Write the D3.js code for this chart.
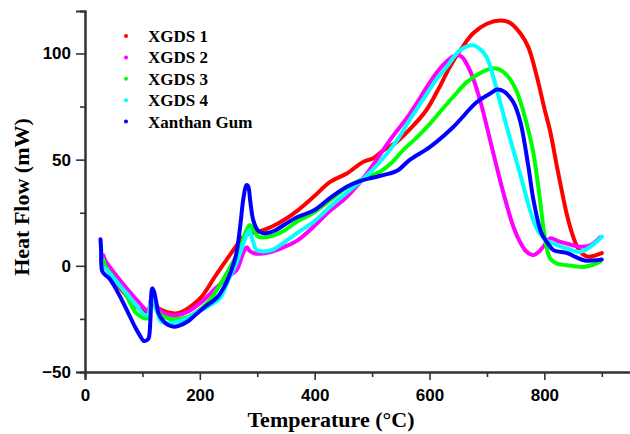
<!DOCTYPE html>
<html>
<head>
<meta charset="utf-8">
<script src="https://cdn.jsdelivr.net/npm/d3@7"></script>
<style>
  html, body { margin: 0; padding: 0; background: #fff; }
  svg { display: block; }
</style>
</head>
<body>
<svg id="chart" width="630" height="434"></svg>
<script>
// ---------- data ----------
const seriesNames = ["XGDS 1", "XGDS 2", "XGDS 3", "XGDS 4", "Xanthan Gum"];
const seriesColors = ["#ff0000", "#ff00ff", "#00ff00", "#00ffff", "#0000ff"];

const xgds1T = [32, 35, 45, 60, 75, 90, 100, 110, 114, 117, 121, 125, 135, 145, 157, 170, 185, 203, 226, 250, 265, 275, 283, 290, 300, 310, 325, 348, 370, 398, 427, 456, 485, 502, 520, 543, 570, 595, 615, 636, 656, 676, 700, 724, 740, 758, 772, 787, 801, 810, 821, 828, 838, 848, 858, 867, 876, 885, 895, 900];
const xgds1H = [3, 0, -4, -10, -15, -19.5, -21, -21.6, -17, -15, -17, -19.3, -21, -22, -22.4, -21.5, -19, -14.6, -5.2, 4.2, 10, 13.5, 15, 15.5, 16, 16.8, 18.4, 21.8, 26, 32.5, 39.5, 43.5, 49, 50.6, 54.5, 58.4, 65.5, 73.5, 83, 94, 102.5, 109.5, 114, 115.5, 114.5, 109.5, 103, 89, 73, 63.5, 48, 38.5, 25.5, 15.5, 8.5, 5.5, 4.3, 4.6, 5.5, 6];

const xgds2T = [32, 35, 50, 75, 95, 107, 111, 115, 118, 122, 130, 145, 160, 180, 203, 230, 250, 264, 273, 278, 282, 287, 296, 310, 325, 348, 370, 398, 427, 456, 491, 531, 566, 595, 607, 625, 640, 648, 656, 672, 688, 703, 717, 731, 746, 758, 769, 781, 790, 798, 810, 825, 839, 862, 880, 897];
const xgds2H = [5, 2.7, -3, -11.4, -17.5, -20.9, -21, -16, -15.5, -18, -21, -23, -23.3, -21.5, -17, -10, -5, -2, 4.2, 7.5, 8.7, 7, 5.8, 5.8, 6.6, 9, 12, 18.4, 26, 32.5, 43.5, 59.2, 71.7, 84, 89, 95, 98.5, 99.2, 98.5, 91, 78, 62, 46.6, 32, 18.4, 11, 6.6, 5, 6.5, 9, 12.9, 11.5, 10.5, 9, 9.7, 13.4];

const xgds3T = [32, 35, 50, 70, 87, 98, 105, 111, 115, 118, 122, 130, 145, 162, 180, 203, 220, 235, 250, 262, 272, 280, 287, 293, 302, 315, 330, 348, 370, 398, 427, 456, 485, 514, 534, 554, 578, 601, 620, 641, 665, 690, 711, 725, 740, 752, 762, 772, 781, 792, 801, 810, 822, 839, 855, 868, 885, 897];
const xgds3H = [3, 0, -5.5, -13, -21.6, -24, -24.8, -24.5, -18, -16.5, -19, -22.5, -24.8, -25, -24, -20, -15.3, -9, -2, 4, 10, 16, 19.2, 17, 13.7, 13.5, 14.5, 16.8, 21, 25, 31, 37, 41, 44.3, 48.5, 54.5, 60.5, 67, 73, 79.5, 86.5, 91, 93, 92, 88, 82, 74, 64, 53, 32, 13, 3.5, 1, 0.3, -0.3, -0.5, 0.5, 1.9];

const xgds4T = [28, 31, 35, 50, 75, 90, 104.5, 110, 114, 117, 121, 126, 133, 145, 162, 180, 192, 215, 235, 250, 261, 270, 278, 285.6, 292, 299, 310, 325, 348, 370, 398, 427, 456, 485, 514, 543, 566, 588, 610, 630, 653, 676, 690, 700, 711, 722, 734, 746, 758, 769, 780, 790, 804, 820, 839, 862, 880, 900];
const xgds4H = [10, -1, -1.2, -6, -13.8, -19, -23.2, -23, -17, -15.5, -18, -22, -26.3, -27, -26.3, -24.5, -22.4, -19, -15.3, -6.5, -0.5, 6, 12, 16.8, 12, 7.4, 6.8, 7.4, 11.3, 15.5, 20.7, 27.8, 34.5, 41, 49, 59, 69, 78, 87, 93.7, 101.5, 103.9, 101.5, 98, 89, 78, 66, 54.5, 43, 32, 22, 16, 12, 10, 8.2, 6.6, 9, 13.7];

const xanthanT = [27, 28, 30, 36, 41, 50, 64, 75, 87, 96, 102, 108, 111, 114, 117, 120, 124, 128, 135, 145, 155, 163, 180, 192, 209, 231, 245, 255, 263, 270, 276, 281, 284, 288, 293, 300, 308, 318, 330, 348, 370, 398, 427, 456, 480, 502, 531, 545, 566, 601, 640, 682, 705, 718, 730, 746, 758, 772, 781, 795, 805, 816, 840, 856, 870, 885, 900];
const xanthanH = [12.5, 8, -2.5, -4.5, -5.5, -9, -16, -22, -28.7, -33, -35.3, -35, -34, -25, -10.6, -12, -17, -22.4, -25.5, -27.9, -28.7, -28.3, -26, -23.2, -19.3, -14.6, -8.5, -2, 5, 18, 32, 38, 37.5, 30, 21.5, 17, 15.5, 15.5, 16.5, 19.5, 23, 26, 32, 37.2, 40, 41.6, 43.5, 45, 50, 56, 65, 77, 81, 83, 82, 77, 68, 47, 31, 15.3, 11, 7.4, 6, 4, 2.5, 2.5, 3];

const xTicksMajor = [0, 200, 400, 600, 800];
const xTicksMinor = [100, 300, 500, 700, 900];
const yTicksMajor = [-50, 0, 50, 100];
const yTicksMinor = [-25, 25, 75];

const xLabel = "Temperature (°C)";
const yLabel = "Heat Flow (mW)";

// ---------- build ----------
const seriesT = [xgds1T, xgds2T, xgds3T, xgds4T, xanthanT];
const seriesH = [xgds1H, xgds2H, xgds3H, xgds4H, xanthanH];
const series = seriesNames.map((name, i) => ({
  name, color: seriesColors[i],
  pts: seriesT[i].map((t, j) => [t, seriesH[i][j]])
}));

const svg = d3.select("#chart");
const x = d3.scaleLinear().domain([0, 950]).range([85, 630.5]);
const y = d3.scaleLinear().domain([-50, 120]).range([372, 11]);

const axisColor = "#333";
const tickFont = "bold 17px 'Liberation Sans', Arial, sans-serif";

// curves
const line = d3.line().x(d => x(d[0])).y(d => y(d[1])).curve(d3.curveCatmullRom.alpha(0.5));
const gLines = svg.append("g");
series.forEach(s => {
  gLines.append("path")
    .attr("d", line(s.pts))
    .attr("fill", "none")
    .attr("stroke", s.color)
    .attr("stroke-width", 4)
    .attr("stroke-linejoin", "round")
    .attr("stroke-linecap", "round");
});

// x axis
const gx = svg.append("g").attr("transform", `translate(0,${y(-50)})`);
gx.call(d3.axisBottom(x).tickValues(xTicksMajor).tickSize(8).tickPadding(9).tickFormat(d3.format("d")));
gx.append("g").call(d3.axisBottom(x).tickValues(xTicksMinor).tickSize(5).tickFormat(""));
gx.selectAll(".domain").attr("stroke", axisColor).attr("stroke-width", 2);
gx.selectAll(".tick line").attr("stroke", axisColor).attr("stroke-width", 1.6);
gx.selectAll(".tick text").style("font", tickFont).attr("fill", "#000");

// y axis
const gy = svg.append("g").attr("transform", `translate(${x(0)},0)`);
gy.call(d3.axisLeft(y).tickValues(yTicksMajor).tickSize(9).tickPadding(5).tickFormat(d3.format("d")));
gy.append("g").call(d3.axisLeft(y).tickValues(yTicksMinor).tickSize(5).tickFormat(""));
gy.selectAll(".domain").attr("stroke", axisColor).attr("stroke-width", 2);
gy.selectAll(".tick line").attr("stroke", axisColor).attr("stroke-width", 1.6);
gy.selectAll(".tick text").style("font", tickFont).attr("fill", "#000");

gx.select("g").select(".domain").remove();
gy.select("g").select(".domain").remove();

// axis titles
svg.append("text")
  .attr("x", 331).attr("y", 427)
  .attr("text-anchor", "middle")
  .style("font", "bold 22px 'Liberation Serif', 'Times New Roman', serif")
  .attr("fill", "#000")
  .text(xLabel);

svg.append("text")
  .attr("transform", "translate(28.5,197) rotate(-90)")
  .attr("text-anchor", "middle")
  .style("font", "bold 22px 'Liberation Serif', 'Times New Roman', serif")
  .attr("fill", "#000")
  .text(yLabel);

// legend
const legend = svg.append("g");
series.forEach((s, i) => {
  const cy = 36 + i * 21.4;
  legend.append("circle").attr("cx", 126).attr("cy", cy).attr("r", 2).attr("fill", s.color);
  legend.append("text")
    .attr("x", 148).attr("y", cy + 6)
    .style("font", "bold 17px 'Liberation Serif', 'Times New Roman', serif")
    .attr("fill", "#000")
    .text(s.name);
});
</script>
</body>
</html>
